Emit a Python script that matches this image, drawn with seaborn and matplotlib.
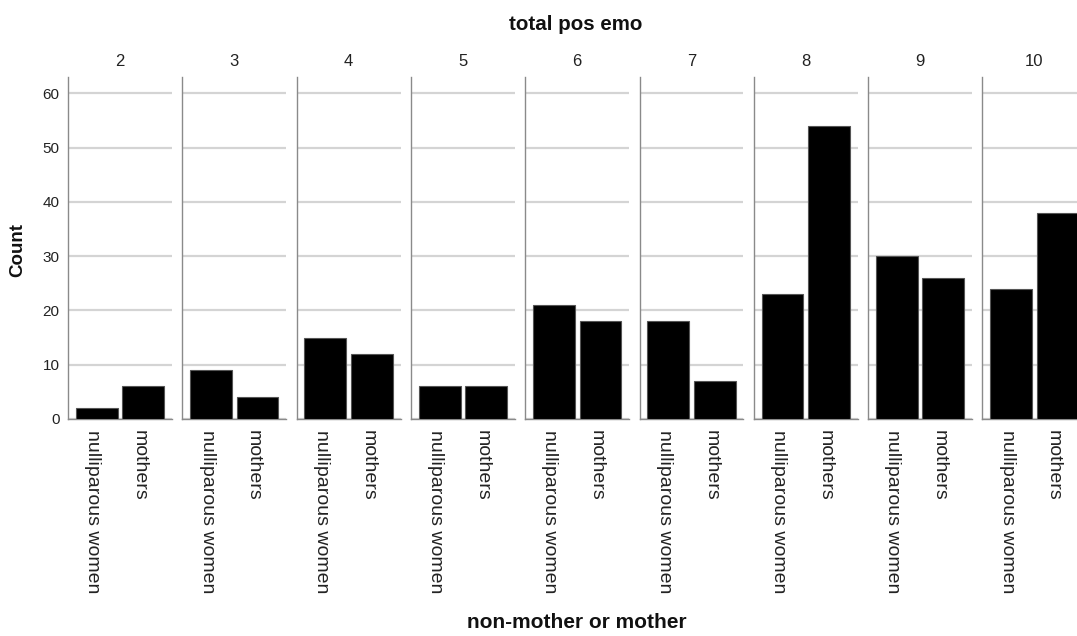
import matplotlib
matplotlib.use("Agg")
import matplotlib.pyplot as plt
import matplotlib.transforms as mtransforms
import seaborn as sns
import pandas as pd

# Counts of women by total positive-emotion score, split by motherhood status
scores = ["2", "3", "4", "5", "6", "7", "8", "9", "10"]
groups = ["nulliparous women", "mothers"]
nulliparous_counts = [2, 9, 15, 6, 21, 18, 23, 30, 24]
mother_counts = [6, 4, 12, 6, 18, 7, 54, 26, 38]

rows = []
for s, n, m in zip(scores, nulliparous_counts, mother_counts):
    rows.append({"score": s, "group": groups[0], "count": n})
    rows.append({"score": s, "group": groups[1], "count": m})
df = pd.DataFrame(rows)

sns.set_theme(style="white")
plt.rcParams["font.family"] = ["Liberation Sans", "DejaVu Sans"]

W, H = 1077, 636
fig = plt.figure(figsize=(W / 100, H / 100), dpi=100)

panel_left0 = 68
panel_pitch = 114.3
panel_w = 104
top_px, bottom_px = 77, 419

# shift rotated category labels slightly left of the bar centres
label_shift = mtransforms.ScaledTranslation(-4 / 100, 0, fig.dpi_scale_trans)

for i, s in enumerate(scores):
    left = (panel_left0 + i * panel_pitch) / W
    ax = fig.add_axes([left, (H - bottom_px) / H, panel_w / W, (bottom_px - top_px) / H])
    sub = df[df["score"] == s]
    sns.barplot(data=sub, x="group", y="count", order=groups, color="black",
                width=0.9, edgecolor="#555555", linewidth=0.8, saturation=1,
                ax=ax, zorder=3)
    ax.set_ylim(0, 63)
    ax.set_xlim(-0.62, 1.62)
    ax.set_yticks(range(0, 61, 10))
    ax.yaxis.grid(True, color="#d4d4d4", linewidth=1.6, zorder=0)
    ax.set_axisbelow(True)
    for side in ["top", "right"]:
        ax.spines[side].set_visible(False)
    for side in ["left", "bottom"]:
        ax.spines[side].set_color("#8a8a8a")
        ax.spines[side].set_linewidth(1.0)
    ax.tick_params(axis="both", length=0, pad=8)
    ax.set_xticks([0, 1])
    ax.set_xticklabels(groups, rotation=-90, fontsize=14, color="#222222",
                       va="top", ha="center")
    for lbl in ax.get_xticklabels():
        lbl.set_transform(lbl.get_transform() + label_shift)
    ax.set_xlabel("")
    ax.set_ylabel("")
    if i == 0:
        ax.tick_params(axis="y", labelsize=11, labelcolor="#222222", pad=6)
    else:
        ax.set_yticklabels([])
    ax.set_title(s, fontsize=12, color="#222222", pad=8)

fig.text(576 / W, 1 - 24 / H, "total pos emo", ha="center", va="center",
         fontsize=14.8, fontweight="bold", color="#111111")
fig.text(577 / W, 1 - 623 / H, "non-mother or mother", ha="center", va="center",
         fontsize=15, fontweight="bold", color="#111111")
fig.text(18 / W, 1 - 250 / H, "Count", ha="center", va="center", rotation=90,
         fontsize=13.5, fontweight="bold", color="#111111")

fig.savefig("out.png", dpi=100, facecolor="white")
